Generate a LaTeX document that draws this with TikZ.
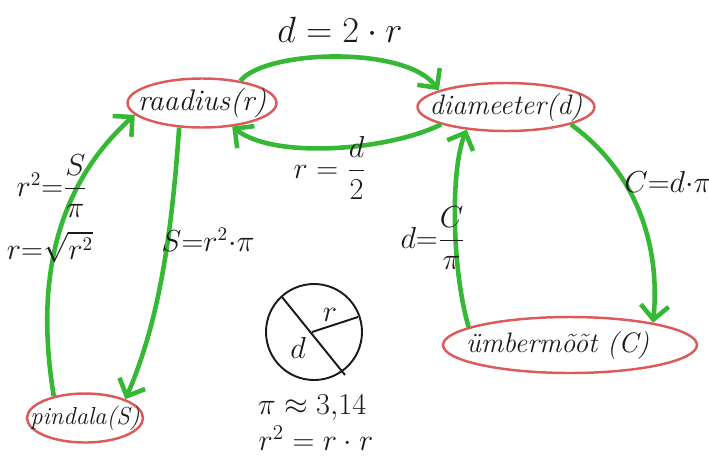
\documentclass[tikz,border=0pt]{standalone}
\usepackage{amsmath}
\usepackage{fontspec}
\usetikzlibrary{arrows.meta,shapes.geometric}
\definecolor{MapGreen}{HTML}{35B935}
\definecolor{MapRed}{HTML}{DC5A5A}
\definecolor{MapInk}{HTML}{1A1A1A}
\newcommand{\flatlabel}[1]{\makebox[0pt]{#1}}
\tikzset{
  concept/.style={ellipse,draw=MapRed,line width=1.4pt,inner sep=0pt,text=MapInk,font=\fontsize{16}{19}\selectfont\itshape},
  linkarrow/.style={-{Straight Barb[length=2.8mm,width=5.6mm]},line width=2.6pt,draw=MapGreen},
  formula/.style={text=MapInk,inner sep=1pt,font=\fontsize{17}{20}\selectfont},
  sketch/.style={draw=MapInk,line width=1.1pt}
}

\begin{document}
\begin{tikzpicture}[x=0.02cm,y=-0.02cm]
  \useasboundingbox (0,0) rectangle (709,460);
  % concepts
  \node[concept,minimum width=2.98cm,minimum height=0.98cm,font=\fontsize{17}{20}\selectfont\itshape] (rad) at (202,103) {\flatlabel{raadius(r)}};
  \node[concept,minimum width=3.54cm,minimum height=0.96cm] (dia) at (506,107) {\flatlabel{diameeter(d)}};
  \node[concept,minimum width=5.08cm,minimum height=1.12cm] (umb) at (570,345) {\flatlabel{\hspace*{-14pt}ümbermõõt (C)}};
  \node[concept,minimum width=2.32cm,minimum height=0.98cm,font=\fontsize{14}{17}\selectfont\itshape] (pin) at (85,418) {\flatlabel{pindala(S)}};
  % links
  \draw[linkarrow] (rad.30) .. controls (265,50) and (405,45) .. (dia.166);
  \draw[linkarrow] (dia.195) .. controls (390,150) and (275,160) .. (rad.-38);
  \draw[linkarrow] (dia.-15) .. controls (640,175) and (660,250) .. (umb.15);
  \draw[linkarrow] (umb.170) .. controls (452,270) and (450,170) .. (dia.210);
  \draw[linkarrow] (rad.-133) .. controls (172,230) and (160,320) .. (pin.25);
  \draw[linkarrow] (pin.145) .. controls (38,300) and (46,195) .. (rad.190);
  % formulas
  \node[formula,font=\fontsize{20}{24}\selectfont] (d2r) at (340,30) {$d = 2\cdot r$};
  \node[formula,font=\fontsize{19}{23}\selectfont] (rd2) at (330,168) {$r = \dfrac{d}{2}$};
  \node[formula,font=\fontsize{16}{19}\selectfont] (cdp) at (668,182) {$C{=}d{\cdot}\pi$};
  \node[formula] (dcp) at (433,238) {$d{=}\dfrac{C}{\pi}$};
  \node[formula,font=\fontsize{16}{19}\selectfont] (srp) at (208,240) {$S{=}r^2{\cdot}\pi$};
  \node[formula,font=\fontsize{16}{19}\selectfont] (r2sp) at (52,186) {$r^2{=}\dfrac{S}{\pi}$};
  \node[formula,font=\fontsize{16}{19}\selectfont] (rsq) at (50,247) {$r{=}\sqrt{r^2}$};
  % circle sketch
  \draw[sketch] (314,332) circle [radius=48];
  \coordinate (ctr) at (312,332);
  \draw[sketch] (282,297) -- (345,375);
  \draw[sketch] (ctr) -- (358,317);
  \node[formula] (rlab) at (330,315) {$r$};
  \node[formula] (dlab) at (298,348) {$d$};
  \node[formula,font=\fontsize{19}{23}\selectfont] (piv) at (312,408) {$\pi \approx 3{,}14$};
  \node[formula,font=\fontsize{17}{20}\selectfont] (rr) at (316,438) {$r^2 = r\cdot r$};
\end{tikzpicture}
\end{document}
